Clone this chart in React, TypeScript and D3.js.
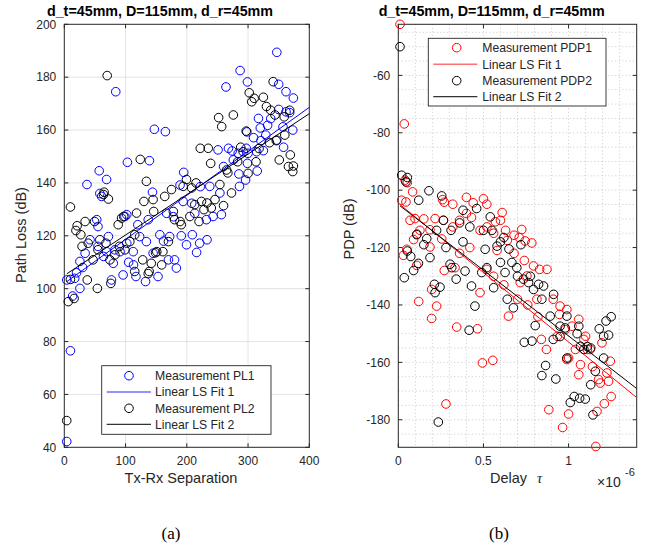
import React from "react";
import * as d3 from "d3";

// ---------- data ----------
const plXTicks = [0, 100, 200, 300, 400];
const plYTicks = [40, 60, 80, 100, 120, 140, 160, 180, 200];
const pdpXTicks = [0, 0.5, 1];
const pdpXTickLabels = ["0", "0.5", "1"];
const pdpYTicks = [-180, -160, -140, -120, -100, -80, -60];
const pdpXMinor = [0.1, 0.2, 0.3, 0.4, 0.6, 0.7, 0.8, 0.9, 1.1, 1.2, 1.3];

const plTitle = "d_t=45mm, D=115mm, d_r=45mm";
const pdpTitle = "d_t=45mm, D=115mm, d_r=45mm";
const plLegend = ["Measurement PL1", "Linear LS Fit 1", "Measurement PL2", "Linear LS Fit 2"];
const pdpLegend = ["Measurement PDP1", "Linear LS Fit 1", "Measurement PDP2", "Linear LS Fit 2"];

// Path loss measurement 1 (x: Tx-Rx separation, y: dB)
const pl1: [number, number][] = [
  [347, 189.4], [287, 182.5], [299, 178.2], [264, 176.3], [350, 177.3], [362, 174.5], [374, 172.1], [84, 174.5],
  [147, 160.3], [165, 159.4], [317, 164.4], [320, 160.8], [337, 164.3], [350, 167.8], [362, 166.9], [368, 166.6],
  [332, 161.8], [357, 161.2], [373, 160], [298, 159.3], [309, 157.1], [329, 158.1], [321, 156], [347, 156.2],
  [358, 153.5], [251, 152.5], [268, 153.1], [274, 152.1], [284, 151.2], [297, 153.1], [300, 151.2], [314, 151.8],
  [325, 152.2], [299, 147.4], [285, 143.4], [296, 141.1], [315, 144.5], [276, 148.7], [260, 146.2], [103, 147.8],
  [139, 148.4], [57, 144.6], [69, 141.3], [195, 144], [37, 139.4],
  [61, 134.9], [58, 136], [53, 126.1], [55, 123.5], [72, 119.7], [99, 127.3], [102, 128], [120, 124.2],
  [123, 119.7], [137, 126.1], [144, 136.5], [156, 120.4], [162, 118], [172, 119.7], [191, 120], [194, 133],
  [189, 139.2], [199.5, 116.6], [209, 120.4], [221, 117.2], [233, 118.5], [232, 126.1], [243, 127.3], [256.5, 128],
  [237.5, 138.7], [222, 138.6], [254, 136.2], [286, 138.7], [167, 128.5], [178, 127.2], [208, 132.3], [213, 128.5],
  [145, 113.4], [134, 117.8], [112.5, 114], [91, 114], [82.6, 114.7], [102, 117.2], [64, 112.2], [55, 116],
  [42, 118.5], [34, 113.4], [25.5, 110.3], [69, 114],
  [4, 42.2], [10, 76.5], [13.6, 97.2], [25.5, 100.1], [4, 103.3], [17, 103.9], [77, 103.3], [80, 109.6],
  [96, 105.2], [117, 104.6], [132.6, 102.7], [153, 104.6], [170, 110.9], [180, 110.9], [183, 107.8], [216, 113.7],
  [105, 110], [113, 109], [20, 106], [30, 108],
];

// Path loss measurement 2
const pl2: [number, number][] = [
  [70, 180.6], [341, 178.3], [302, 174.1], [306, 170.7], [325, 172.4], [310, 172], [330, 168.9], [337, 167.5],
  [344, 165.7], [359, 165], [368, 167.5], [252, 164.7], [257, 161.3], [276, 165.7], [297, 159.6], [360, 158.1],
  [335, 155.2], [351, 148.7], [369, 150.6], [374, 146.4], [373, 144.3], [366, 146.2], [222, 153.1], [235, 153.1],
  [239, 147.4], [265, 144.9], [283, 148], [292, 151.8], [300, 143.6], [313, 148], [288, 153.5], [124, 148.9],
  [134, 140.6], [199.5, 141.3], [215, 140], [318, 153], [346, 156],
  [10, 130.9], [19, 122], [21, 123.8], [27, 120.4], [34, 125.4], [29, 116], [39, 117.2], [47, 110.9],
  [55, 114.7], [58, 118.5], [49.5, 125.4], [64, 135.6], [65, 136.5], [72, 133.9], [68, 117.2], [74.5, 110.9],
  [82.6, 112.8], [88, 124.2], [93.5, 126.7], [97, 127.3], [90, 116], [99, 114.7], [107, 117.8], [115, 120.4],
  [118, 128.6], [128, 110.9], [130, 133], [142, 109.6], [145, 133.7], [146, 129.2], [151, 114], [159, 109],
  [164, 134.9], [161, 114], [170, 117.8], [175, 137.5], [178, 129.2], [180, 126.1], [189, 125.4], [191, 124.2],
  [194, 138.7], [205, 127.3], [208, 138.1], [213, 131.8], [220, 125.4], [224, 133], [228, 129.9], [233, 132.4],
  [240, 130.5], [246, 133.7], [254, 139.4], [260, 131.4], [267, 143.8], [273, 136.2],
  [4, 50.1], [6.5, 95.1], [16, 96.3], [10, 103.5], [37.5, 103.3], [54, 100.1], [76, 102], [115, 106.5],
  [138.6, 106.5], [149, 113.6], [137, 105.7],
];

// PDP measurement 1 (x: delay in microseconds, y: dB)
const pdp1: [number, number][] = [
  [0.01, -42.2], [0.035, -76.9], [0.02, -103.5], [0.045, -104.1], [0.04, -96.5], [0.053, -97.4], [0.084, -100.6],
  [0.069, -110.5], [0.098, -109.9], [0.127, -114], [0.11, -115.3], [0.15, -110], [0.26, -103.3], [0.27, -104.2],
  [0.32, -104.9], [0.4, -102.5], [0.44, -104.4], [0.5, -103], [0.52, -104.9], [0.61, -107.8], [0.6, -110.5],
  [0.57, -111], [0.725, -113.7], [0.68, -115.7], [0.71, -116.5], [0.745, -117.7], [0.784, -118.4], [0.265, -110.5],
  [0.32, -112.8], [0.36, -110.5], [0.4, -108.1], [0.43, -109.5], [0.48, -114], [0.52, -112.8], [0.56, -115],
  [0.63, -114], [0.64, -117.5], [0.216, -109.9], [0.186, -113.8], [0.255, -117], [0.09, -117.2],
  [0.108, -126.2], [0.03, -122.7], [0.05, -120.6], [0.186, -119.8], [0.12, -138.8], [0.196, -134.6], [0.225, -140.4],
  [0.196, -144.7], [0.343, -147.7], [0.465, -148.3], [0.494, -160.2], [0.555, -159.3], [0.28, -174.5], [0.333, -127],
  [0.48, -135.7], [0.52, -127.6], [0.647, -143.9], [0.716, -132.2], [0.755, -129.9], [0.794, -126.4], [0.83, -127.6],
  [0.873, -127.6], [0.91, -138], [0.95, -140.4], [0.946, -143.3], [0.99, -141.6], [0.814, -138], [0.82, -144.1],
  [0.84, -152], [0.87, -155.5], [0.884, -176.5], [0.965, -182.7], [1.0, -178], [1.0, -158.5], [0.99, -159],
  [1.06, -164.3], [1.07, -160.8], [1.09, -152], [1.1, -150.9], [1.04, -155.5], [1.06, -145], [1.11, -155.5],
  [1.16, -189.3], [1.167, -177.1], [1.21, -174.4], [1.25, -171.9], [1.186, -167.2], [1.176, -166], [1.235, -166.6],
  [1.245, -159.6], [1.225, -163.7], [1.14, -161.5], [1.196, -153.2], [1.127, -155.5], [1.02, -147.4], [0.98, -148.6],
  [0.934, -150.9], [0.36, -122], [0.42, -120], [0.58, -121], [0.68, -122], [0.74, -124.5], [0.27, -128],
  [0.56, -130], [0.62, -133], [0.7, -138], [0.76, -140],
];

// PDP measurement 2
const pdp2: [number, number][] = [
  [0.01, -50], [0.02, -94.8], [0.053, -95.6], [0.045, -97.1], [0.12, -103.5], [0.18, -100.2], [0.255, -102],
  [0.46, -106.4], [0.38, -107], [0.54, -109.3], [0.5, -114], [0.55, -114], [0.62, -116.5], [0.42, -112.8],
  [0.36, -111.4], [0.31, -114], [0.265, -110.5], [0.225, -114], [0.167, -116.9], [0.108, -115.5], [0.6, -118],
  [0.58, -119.5], [0.72, -119], [0.65, -120.5],
  [0.035, -130.5], [0.053, -121.2], [0.073, -123.1], [0.118, -125.5], [0.186, -123.5], [0.216, -135.7],
  [0.245, -133.8], [0.212, -132.8], [0.304, -125.8], [0.314, -127], [0.392, -128.2], [0.43, -133.4], [0.45, -140.4],
  [0.416, -148.8], [0.235, -180.8], [0.49, -128.7], [0.51, -120.6], [0.56, -134], [0.6, -125.2], [0.627, -128.7],
  [0.64, -138], [0.676, -141], [0.667, -125.2], [0.696, -127], [0.735, -131], [0.765, -132.2], [0.794, -134.6],
  [0.775, -130], [0.824, -132.8], [0.853, -133.4], [0.843, -138], [0.74, -153], [0.785, -152.6], [0.804, -147.2],
  [0.865, -161.1], [0.843, -164.6], [0.925, -165.8], [0.912, -136.3], [0.892, -143.9], [0.95, -147.4], [0.98, -148],
  [0.99, -143.9], [1.01, -174], [1.033, -171.9], [1.065, -172.5], [1.098, -172.8], [1.143, -178.3], [1.13, -167.8],
  [1.157, -163.1], [1.18, -148.3], [1.206, -150.9], [1.22, -145.6], [1.25, -144.1], [1.235, -150.5], [1.206, -158.5],
  [1.07, -154.4], [1.06, -147.4], [1.05, -150], [1.09, -155.5], [1.13, -155], [1.11, -154.5], [0.99, -158.5],
  [0.95, -151], [0.91, -152], [0.38, -118], [0.28, -120], [0.15, -119], [0.09, -128], [0.34, -131], [0.52, -127],
  [0.7, -130],
];

// least-squares fits: [intercept, slope]
const plFit1 = [102, 0.1665];
const plFit2 = [105, 0.153];
const pdpFit1 = [-104.5, -48.4];
const pdpFit2 = [-105, -45.8];

// ---------- layout ----------
const FONT = "'Liberation Sans', Arial, Helvetica, sans-serif";
const SERIF = "'Liberation Serif', 'Times New Roman', serif";
const AX = "#262626";
const TOP = 24.3;
const BOT = 447.3;
const R = 4.3;

const xL = d3.scaleLinear().domain([0, 400]).range([64.3, 309.3]);
const yL = d3.scaleLinear().domain([40, 200]).range([BOT, TOP]);
const xR = d3.scaleLinear().domain([0, 1.4]).range([398.3, 636.7]);
const yR = d3.scaleLinear().domain([-189.6, -42.2]).range([BOT, TOP]);

const line = d3.line<[number, number]>();

function fitPts(fit: number[], x0: number, x1: number): [number, number][] {
  return [
    [x0, fit[0] + fit[1] * x0],
    [x1, fit[0] + fit[1] * x1],
  ];
}

function Circles({ data, x, y, color }: any) {
  return (
    <g>
      {data.map((d: [number, number], i: number) => (
        <circle key={i} cx={x(d[0])} cy={y(d[1])} r={R} fill="none" stroke={color} strokeWidth={1} />
      ))}
    </g>
  );
}

function Frame({ x, y, xTicks, yTicks, xLabels }: any) {
  const [x0, x1] = x.range();
  const tl = 4;
  return (
    <g>
      <rect x={x0} y={TOP} width={x1 - x0} height={BOT - TOP} fill="none" stroke={AX} strokeWidth={1} />
      {xTicks.map((t: number, i: number) => (
        <g key={"xt" + i}>
          <line x1={x(t)} x2={x(t)} y1={BOT} y2={BOT - tl} stroke={AX} strokeWidth={1} />
          <line x1={x(t)} x2={x(t)} y1={TOP} y2={TOP + tl} stroke={AX} strokeWidth={1} />
          <text x={x(t)} y={465} textAnchor="middle" fontSize={12} fill={AX} fontFamily={FONT}>
            {xLabels ? xLabels[i] : String(t)}
          </text>
        </g>
      ))}
      {yTicks.map((t: number, i: number) => (
        <g key={"yt" + i}>
          <line x1={x0} x2={x0 + tl} y1={y(t)} y2={y(t)} stroke={AX} strokeWidth={1} />
          <line x1={x1} x2={x1 - tl} y1={y(t)} y2={y(t)} stroke={AX} strokeWidth={1} />
          <text x={x0 - 8} y={y(t)} dy="0.36em" textAnchor="end" fontSize={12} fill={AX} fontFamily={FONT}>
            {String(t)}
          </text>
        </g>
      ))}
    </g>
  );
}

function Legend({ x0, x1, y0, y1, rows, labels, c1, c1light, c2, markerX, lineX0, lineX1, textX }: any) {
  return (
    <g>
      <rect x={x0} y={y0} width={x1 - x0} height={y1 - y0} fill="#fff" stroke={AX} strokeWidth={0.9} />
      <circle cx={markerX} cy={rows[0]} r={R} fill="none" stroke={c1} strokeWidth={1} />
      <line x1={lineX0} x2={lineX1} y1={rows[1]} y2={rows[1]} stroke={c1light} strokeWidth={1.6} />
      <circle cx={markerX} cy={rows[2]} r={R} fill="none" stroke={c2} strokeWidth={1} />
      <line x1={lineX0} x2={lineX1} y1={rows[3]} y2={rows[3]} stroke="#333" strokeWidth={1.3} />
      {labels.map((s: string, i: number) => (
        <text key={i} x={textX} y={rows[i]} dy="0.36em" fontSize={12.2} fill={AX} fontFamily={FONT}>
          {s}
        </text>
      ))}
    </g>
  );
}

export default function App() {
  const minorY = d3.range(-185, -44, 5);
  const [lx0, lx1] = xL.range();
  const [rx0, rx1] = xR.range();
  const pl1MinX = d3.min(pl1, (d) => d[0]) as number;
  const pl2MinX = d3.min(pl2, (d) => d[0]) as number;
  const pdp1MinX = d3.min(pdp1, (d) => d[0]) as number;
  const pdp2MinX = d3.min(pdp2, (d) => d[0]) as number;

  return (
    <svg width={652} height={547} style={{ display: "block", position: "absolute", left: 0, top: 0 }}>
      <rect x={0} y={0} width={652} height={547} fill="#fff" />

      {/* ---------- left panel ---------- */}
      <g>
        {plXTicks.slice(1, -1).map((t) => (
          <line key={"gx" + t} x1={xL(t)} x2={xL(t)} y1={TOP} y2={BOT} stroke="#e3e3e3" strokeWidth={1} />
        ))}
        {plYTicks.slice(1, -1).map((t) => (
          <line key={"gy" + t} x1={lx0} x2={lx1} y1={yL(t)} y2={yL(t)} stroke="#e3e3e3" strokeWidth={1} />
        ))}
        <Frame x={xL} y={yL} xTicks={plXTicks} yTicks={plYTicks} />
        <Circles data={pl1} x={xL} y={yL} color="#0000ff" />
        <path
          d={line(fitPts(plFit1, pl1MinX, 400).map((d) => [xL(d[0]), yL(d[1])]) as any) || ""}
          stroke="#0000ff"
          strokeWidth={1}
          fill="none"
        />
        <Circles data={pl2} x={xL} y={yL} color="#000" />
        <path
          d={line(fitPts(plFit2, pl2MinX, 400).map((d) => [xL(d[0]), yL(d[1])]) as any) || ""}
          stroke="#000"
          strokeWidth={1}
          fill="none"
        />
        <Legend
          x0={101.7}
          x1={271}
          y0={365.7}
          y1={434.3}
          rows={[375.7, 392, 408.3, 424.3]}
          labels={plLegend}
          c1="#0000ff"
          c1light="#7070ff"
          c2="#000"
          markerX={129}
          lineX0={106.7}
          lineX1={151}
          textX={155}
        />
        <text x={160} y={16} textAnchor="middle" fontSize={14.3} fontWeight="bold" fill="#000" fontFamily={FONT}>
          {plTitle}
        </text>
        <text x={181} y={483} textAnchor="middle" fontSize={14.5} fill={AX} fontFamily={FONT}>
          Tx-Rx Separation
        </text>
        <text
          transform="translate(25.5,235) rotate(-90)"
          textAnchor="middle"
          fontSize={14.5}
          fill={AX}
          fontFamily={FONT}
        >
          Path Loss (dB)
        </text>
      </g>

      {/* ---------- right panel ---------- */}
      <g>
        {pdpXMinor.concat(pdpXTicks.slice(1)).map((t) => (
          <line
            key={"rgx" + t}
            x1={xR(t)}
            x2={xR(t)}
            y1={TOP}
            y2={BOT}
            stroke="#c8c8c8"
            strokeWidth={1}
            strokeDasharray="1,2.5"
          />
        ))}
        {minorY.map((t) => (
          <line
            key={"rgy" + t}
            x1={rx0}
            x2={rx1}
            y1={yR(t)}
            y2={yR(t)}
            stroke="#c8c8c8"
            strokeWidth={1}
            strokeDasharray="1,2.5"
          />
        ))}
        <Frame x={xR} y={yR} xTicks={pdpXTicks} yTicks={pdpYTicks} xLabels={pdpXTickLabels} />
        <Circles data={pdp1} x={xR} y={yR} color="#ff0000" />
        <path
          d={line(fitPts(pdpFit1, pdp1MinX, 1.4).map((d) => [xR(d[0]), yR(d[1])]) as any) || ""}
          stroke="#ff0000"
          strokeWidth={1}
          fill="none"
        />
        <Circles data={pdp2} x={xR} y={yR} color="#000" />
        <path
          d={line(fitPts(pdpFit2, pdp2MinX, 1.4).map((d) => [xR(d[0]), yR(d[1])]) as any) || ""}
          stroke="#000"
          strokeWidth={1}
          fill="none"
        />
        <Legend
          x0={428.3}
          x1={606}
          y0={38.3}
          y1={106}
          rows={[47.7, 64.3, 80.7, 96.7]}
          labels={pdpLegend}
          c1="#ff0000"
          c1light="#ff7070"
          c2="#000"
          markerX={456.7}
          lineX0={433.3}
          lineX1={477.3}
          textX={482.3}
        />
        <text x={491.7} y={16} textAnchor="middle" fontSize={14.3} fontWeight="bold" fill="#000" fontFamily={FONT}>
          {pdpTitle}
        </text>
        <text x={490} y={483} fontSize={14.5} fill={AX} fontFamily={FONT}>
          Delay
        </text>
        <text x={537} y={483} fontSize={14.5} fontStyle="italic" fill={AX} fontFamily={SERIF}>
          τ
        </text>
        <text x={597} y={487} fontSize={14} fill={AX} fontFamily={FONT}>
          ×10
        </text>
        <text x={625} y={476} fontSize={11} fill={AX} fontFamily={FONT}>
          -6
        </text>
        <text
          transform="translate(354,229) rotate(-90)"
          textAnchor="middle"
          fontSize={14.5}
          fill={AX}
          fontFamily={FONT}
        >
          PDP (dB)
        </text>
      </g>

      {/* captions */}
      <text x={171} y={539} textAnchor="middle" fontSize={17} fill="#000" fontFamily={SERIF}>
        (a)
      </text>
      <text x={499} y={539} textAnchor="middle" fontSize={17} fill="#000" fontFamily={SERIF}>
        (b)
      </text>
    </svg>
  );
}
